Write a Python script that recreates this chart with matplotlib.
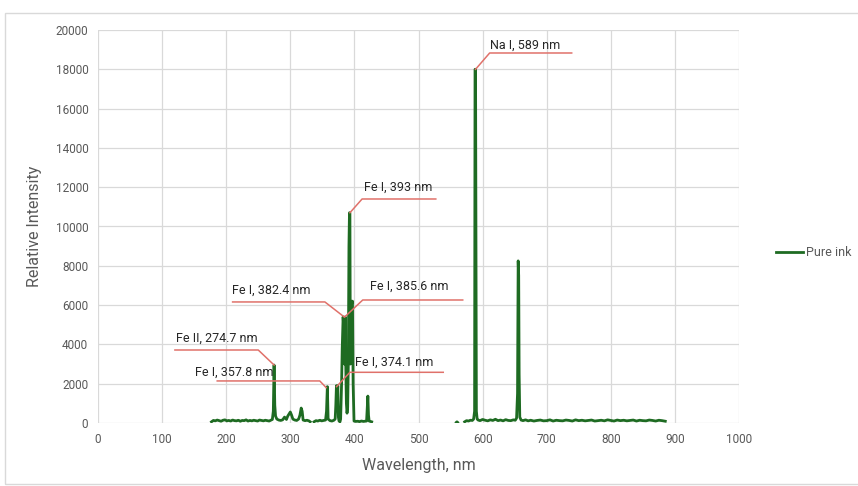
import numpy as np
import matplotlib
matplotlib.use("Agg")
from matplotlib import pyplot as plt
from matplotlib.patches import Rectangle

plt.rcParams['font.family'] = ['Roboto', 'DejaVu Sans']

wl_a = [177, 180, 183, 186, 189, 192, 195, 198, 201, 204, 207, 210, 213, 216, 219, 222, 225, 228,
        231, 234, 237, 240, 243, 246, 249, 252, 255, 258, 261, 264, 267, 270, 272, 273.5, 274.7,
        275.8, 277, 279, 282, 285, 288, 291, 294, 296, 298, 300, 302, 304, 307, 310, 313, 315,
        317, 318.5, 320, 323, 326, 329, 331]
in_a = [60, 130, 110, 150, 120, 90, 140, 160, 110, 130, 100, 150, 120, 110, 140, 90, 130, 120,
        160, 100, 130, 110, 140, 120, 100, 150, 130, 110, 140, 120, 100, 150, 180, 600, 2950,
        900, 350, 200, 150, 130, 160, 300, 180, 350, 450, 560, 400, 200, 150, 130, 200, 400,
        760, 600, 150, 120, 140, 110, 60]

wl_b = [337, 340, 343, 346, 349, 352, 355, 356.5, 357.8, 359, 362, 365, 368, 370, 371, 372, 373,
        374.1, 375, 376, 377.5, 378.5, 380, 381, 382.4, 383.5, 384.5, 385.6, 386.5, 387.5, 388.5,
        389.5, 390.5, 391.5, 392.3, 393, 393.7, 394.3, 395, 396, 397, 398, 399.4, 402, 405, 408,
        411, 414, 417, 419, 420, 421, 422, 423, 425, 427]
in_b = [60, 120, 100, 140, 110, 130, 150, 600, 1850, 200, 120, 100, 140, 200, 900, 1900, 1200,
        1900, 300, 100, 60, 200, 2000, 3800, 5400, 4800, 3000, 5400, 3000, 1000, 500,
        800, 3000, 9000, 10700, 10700, 3000, 6200, 6200, 6100, 6200, 2000, 100, 80, 90, 70,
        100, 80, 90, 100, 700, 1370, 400, 100, 80, 60]

wl_c = [559, 560, 561]
in_c = [30, 60, 30]

wl_d = [572, 575, 578, 581, 584, 586, 587.5, 588.2, 589, 589.6, 590.3, 591.5, 593, 596, 600, 604,
        608, 612, 616, 620, 624, 628, 632, 636, 640, 644, 648, 651, 653, 654.5, 655.5, 656.3,
        657, 658, 660, 663, 667, 671, 675, 680, 685, 690, 695, 700, 705, 710, 715, 720, 725,
        730, 735, 740, 745, 750, 755, 760, 765, 770, 775, 780, 785, 790, 795, 800, 805, 810,
        815, 820, 825, 830, 835, 840, 845, 850, 855, 860, 865, 870, 875, 880, 885]
in_d = [60, 120, 100, 140, 130, 200, 600, 18000, 18000, 9000, 600, 200, 150, 120, 180, 140,
        110, 160, 130, 190, 120, 150, 110, 170, 130, 120, 160, 140, 250, 1500, 8250, 7500,
        2500, 300, 150, 120, 160, 110, 140, 100, 130, 150, 110, 120, 160, 100, 140, 120, 110,
        150, 130, 100, 160, 120, 140, 110, 130, 150, 100, 120, 140, 110, 160, 130, 100, 150,
        120, 140, 110, 130, 150, 100, 140, 120, 110, 150, 130, 100, 140, 120, 90]

nan = [np.nan]
wl = wl_a + nan + wl_b + nan + wl_c + nan + wl_d
inten = in_a + nan + in_b + nan + in_c + nan + in_d

# callouts: label, text pos, leader line points
labels = ["Na I, 589 nm", "Fe I, 393 nm", "Fe I, 385.6 nm", "Fe I, 382.4 nm",
          "Fe II, 274.7 nm", "Fe I, 357.8 nm", "Fe I, 374.1 nm"]
text_x = [611, 415, 424, 209, 122, 151, 401]
text_y = [19237, 12010, 6970, 6770, 4325, 2595, 3100]
lead_x = [[589, 611, 739], [393, 412, 527], [385, 413, 569], [210, 354, 384],
          [120, 250, 274.7], [186, 346, 356], [372.2, 393, 538.6]]
lead_y = [[18000, 18830, 18830], [10700, 11400, 11400], [5400, 6260, 6260], [6160, 6160, 5400],
          [3715, 3715, 2950], [2140, 2140, 1800], [1850, 2580, 2580]]

fig = plt.figure(figsize=(8.58, 4.86), dpi=100)
ax = fig.add_axes([98/858, 63/486, 641/858, 393/486])

# outer chart border
fig.patches.append(Rectangle((5/858, 2/486), 860/858, 471/486, transform=fig.transFigure,
                             fill=False, edgecolor='#d9d9d9', linewidth=1))

ax.plot(wl, inten, color='#1e6b22', linewidth=2, label='Pure ink', zorder=3)

for lab, tx, ty, lx, ly in zip(labels, text_x, text_y, lead_x, lead_y):
    ax.plot(lx, ly, color='#e0716a', linewidth=1.1, zorder=4)
    ax.text(tx, ty, lab, fontsize=9, color='#262626', va='center', ha='left', zorder=5)

ax.set_xlim(0, 1000)
ax.set_ylim(0, 20000)
ax.set_xticks(np.arange(0, 1001, 100))
ax.set_yticks(np.arange(0, 20001, 2000))
ax.grid(True, color='#d9d9d9', linewidth=0.9)
ax.set_axisbelow(True)
for s in ax.spines.values():
    s.set_visible(False)
ax.tick_params(length=0, labelsize=8.5, labelcolor='#595959', pad=7)
ax.set_xlabel("Wavelength, nm", fontsize=11.5, color='#595959', labelpad=9)
ax.set_ylabel("Relative Intensity", fontsize=11.5, color='#595959', labelpad=10)

ax.legend(loc='center left', bbox_to_anchor=(1.04, 0.433), frameon=False,
          handlelength=2.2, handletextpad=0.2, fontsize=9, labelcolor='#595959')

fig.savefig("out.png", dpi=100)
